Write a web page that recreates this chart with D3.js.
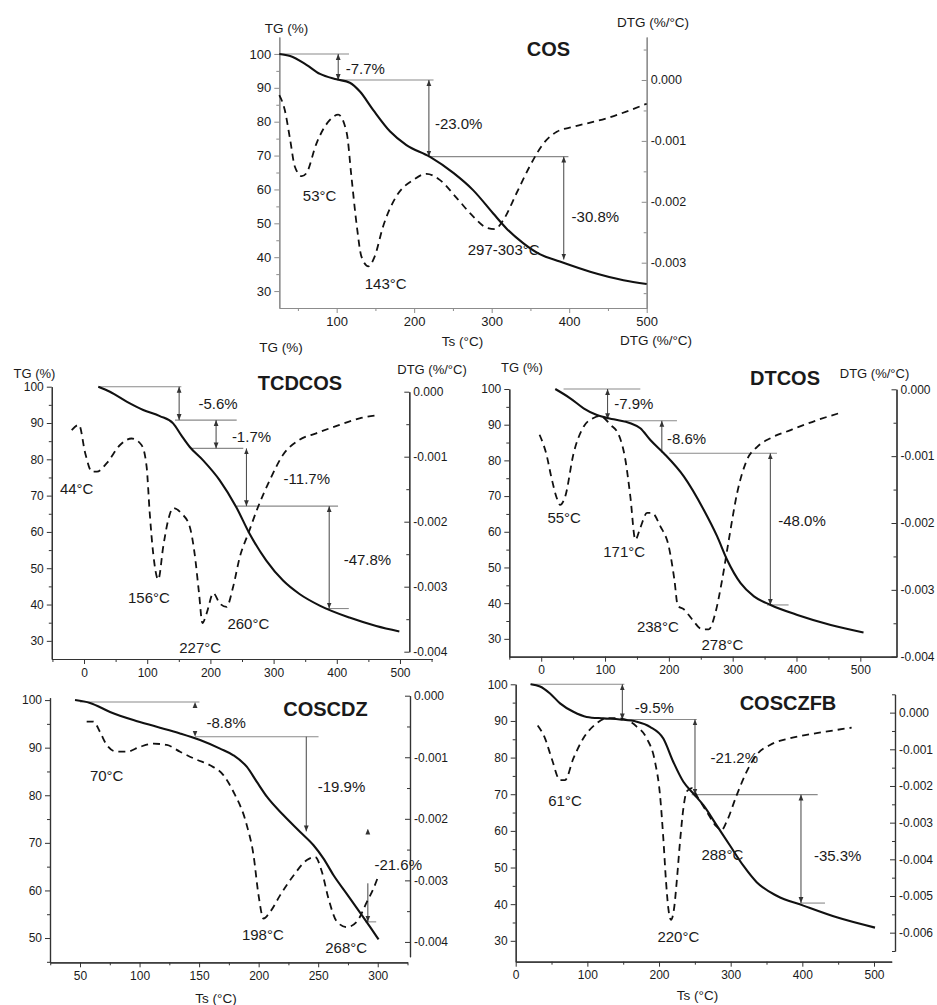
<!DOCTYPE html>
<html>
<head>
<meta charset="utf-8">
<script src="https://cdn.jsdelivr.net/npm/d3@7"></script>
<style>
  body { margin: 0; background: #fff; }
  text { font-family: "Liberation Sans", Arial, sans-serif; fill: #1a1a1a; }
</style>
</head>
<body>
<svg id="fig" width="937" height="1005"></svg>
<script>
// ---------- data: [T (°C), value] ----------
var cosTG = [[26,100],[40,99.4],[61,96.8],[78.5,94.1],[100,92.5],[117,91.5],[130,88.9],[147,83.5],[169,77.1],[190,73.1],[220,69.7],[251,64.8],[276,59.8],[302,52.9],[319,48.5],[341,44.1],[362,40.9],[388,38.7],[427,35.7],[470,33.2],[500,32.1]];
var cosDTG = [[26,-0.00025],[33,-0.00049],[40,-0.00098],[46,-0.00142],[55,-0.00158],[61,-0.00153],[74,-0.00104],[91,-0.00066],[102,-0.00057],[113,-0.00087],[119,-0.00158],[126,-0.0024],[132,-0.0029],[141,-0.00306],[149,-0.0029],[160,-0.0024],[177,-0.00191],[199,-0.00164],[216,-0.00154],[233,-0.00164],[255,-0.00194],[276,-0.00224],[294,-0.00243],[304,-0.00245],[315,-0.0023],[332,-0.00186],[349,-0.00142],[367,-0.00104],[384,-0.00085],[405,-0.00077],[448,-0.00063],[500,-0.00039]];

var tcdTG = [[22.6,100],[41,98.6],[67.4,95.9],[93.7,93.6],[120,91.9],[141,89.9],[154,86.6],[167.4,83.4],[188.5,79.7],[214.8,74.2],[241,66.8],[262,59.5],[288.5,52.1],[315,46.6],[341,42.9],[373,39.7],[420,36.4],[462.4,34.1],[499,32.6]];
var tcdDTG = [[-19.5,-0.00059],[-8,-0.00051],[2,-0.00095],[12.5,-0.00123],[20.4,-0.00123],[36,-0.0011],[57,-0.00082],[75.3,-0.00072],[91,-0.00082],[99,-0.00115],[104,-0.00187],[109.5,-0.00249],[117.5,-0.00289],[125.4,-0.00238],[133.3,-0.00197],[141,-0.00179],[154,-0.00187],[167.4,-0.00208],[175,-0.00249],[182,-0.0031],[187.4,-0.00356],[194,-0.00341],[204.6,-0.0031],[215,-0.00326],[225.6,-0.00331],[236,-0.003],[246.6,-0.00254],[260,-0.00218],[275.5,-0.00177],[294,-0.00136],[315,-0.00097],[341,-0.00074],[367.5,-0.00064],[404.4,-0.00051],[436,-0.00041],[465,-0.00036]];

var dtTG = [[22,100],[45.5,97.4],[66.4,94.6],[87.3,92.7],[113.5,91.5],[139.6,90.4],[155.3,89],[171,85.7],[192,82],[223.4,75.5],[254.8,66.1],[275.7,58.7],[291.4,52.1],[312.4,45.6],[333.3,41.9],[359.5,39.5],[401.4,36.7],[453.7,33.9],[505,31.8]];
var dtDTG = [[-2.6,-0.00068],[7.8,-0.00096],[16.7,-0.00135],[24.5,-0.00163],[29.7,-0.00173],[37.7,-0.0016],[50.7,-0.00096],[66.4,-0.00056],[82,-0.00043],[92.6,-0.0004],[108.3,-0.00053],[121.4,-0.00068],[131.8,-0.00105],[139.6,-0.0016],[147.5,-0.00225],[155.3,-0.00207],[165.8,-0.00185],[173.6,-0.00185],[186.7,-0.00205],[199.8,-0.00235],[208.7,-0.00285],[214,-0.00324],[223.4,-0.00329],[236.4,-0.00344],[252.1,-0.00359],[262.6,-0.00359],[273,-0.00334],[283.5,-0.00285],[294,-0.00225],[307,-0.00155],[322.7,-0.00105],[338.4,-0.00086],[359.5,-0.00073],[390.8,-0.00061],[432.6,-0.00046],[469.3,-0.00035]];

var cdzTG = [[45.8,100],[58.4,99.4],[75.2,97.5],[94.8,95.8],[114.4,94.4],[134,93],[150.8,91.6],[167.6,89.8],[178.8,88.4],[190,86],[198.5,82.8],[206.9,79.7],[220.9,75.8],[234.9,72.3],[246.1,69.5],[254.5,66.7],[262.9,63.2],[274,59.3],[285.3,55.3],[293.7,52.3],[300.7,49.7]];
var cdzDTG = [[55.6,-0.00042],[61.2,-0.00042],[66.8,-0.00059],[72.4,-0.0008],[80.8,-0.00091],[89.2,-0.00091],[100.4,-0.00083],[111.6,-0.00078],[122.8,-0.0008],[134,-0.00091],[148,-0.00104],[159.2,-0.00113],[170.4,-0.00129],[178.8,-0.00156],[190,-0.0021],[195.7,-0.00259],[199.9,-0.00324],[204.1,-0.00362],[209.7,-0.00351],[218.1,-0.00324],[229.3,-0.00292],[240.5,-0.00267],[247.5,-0.00262],[253.1,-0.00286],[258.7,-0.0033],[265.7,-0.00367],[274.1,-0.00376],[282.5,-0.00367],[290.9,-0.00335],[296.5,-0.00313],[300.7,-0.00292]];

var zfbTG = [[20.9,100],[34,99.4],[47.9,97.5],[61.9,94.8],[80.5,92.5],[99,91.1],[122.3,90.7],[145.6,90.4],[168.8,89.8],[187.4,88.4],[206,85.2],[220,78.8],[234,73.4],[247.9,70.2],[261.9,67],[280.5,61.5],[299,56],[317.7,50.5],[336.3,46],[364.2,42.3],[401.4,39.6],[448,36.4],[501.4,33.6]];
var zfbDTG = [[30.7,-0.00035],[40.9,-0.0007],[50.2,-0.00125],[61.9,-0.00184],[68.8,-0.00184],[80.5,-0.00125],[94.4,-0.0007],[113,-0.00029],[127,-0.00015],[141,-0.00015],[155,-0.0002],[168.8,-0.00038],[182.8,-0.0007],[194.4,-0.00134],[201.4,-0.00225],[206,-0.00343],[209.8,-0.00461],[213,-0.00534],[216.7,-0.00565],[221,-0.00534],[224.7,-0.00461],[229.3,-0.00352],[234,-0.00261],[238.6,-0.00215],[245.6,-0.00206],[254.9,-0.00234],[266.5,-0.0027],[280.5,-0.00311],[287.4,-0.0032],[294.4,-0.00297],[308.4,-0.00225],[322.3,-0.00161],[336.3,-0.00115],[354.9,-0.00088],[382.8,-0.0007],[420,-0.00056],[468.8,-0.00041]];

// mass-loss steps: horizontal guides [T1, T2, TG], arrows [T, TG top, TG bottom, heads]
var cosSteps = [[26,116,100],[100,225,92.3],[218,399,69.7]];
var cosArrows = [[102,100,92.3,"both"],[219,92.3,69.7,"both"],[393,69.7,39.3,"both"]];
var cosNotes = [["-7.7%",137,95.6],["-23.0%",257.4,79.5],["-30.8%",433.8,52],["53°C",78,58],["143°C",163.2,32.3],["297-303°C",315.5,42.1]];

var tcdSteps = [[22.6,154,100],[144,241.6,90.8],[170,252,83],[241.6,402,67.1],[381,419,38.9]];
var tcdArrows = [[150.5,100,90.8,"both"],[209,90.8,83,"both"],[257,83,67.1,"both"],[388,67.1,38.9,"both"]];
var tcdNotes = [["-5.6%",212,95.4],["-1.7%",265,86.2],["-11.7%",352.6,74.7],["-47.8%",448.5,52.3],["44°C",-11.6,71.9],["156°C",102.7,42],["227°C",183.8,28.2],["260°C",260,34.6]];

var dtSteps = [[35,155.3,100],[131.7,212.7,91.1],[200.6,369.4,82],[353.7,387.6,39.5]];
var dtArrows = [[104,100,91.5,"both"],[189,91.1,82.2,"top"],[359,82,39.5,"both"]];
var dtNotes = [["-7.9%",145,95.8],["-8.6%",227.7,86],["-48.0%",408.6,63.1],["55°C",36,63.8],["171°C",130,54.3],["238°C",182.8,33.3],["278°C",284,28.3]];

var cdzSteps = [[50,150.3,99.6],[146.6,250.3,92.3],[289.5,298.7,53.4]];
var cdzArrows = [[146.6,99.6,92.3,"heads"],[240,92.3,72.4,"bottom"],[291.7,73,71.1,"headtop"],[291.7,61.5,53.4,"bottom"]];
var cdzNotes = [["-8.8%",172.7,95.2],["-19.9%",269.6,81.7],["-21.6%",317.2,65.3],["70°C",72.4,84.1],["198°C",203.5,50.6],["268°C",273.5,48]];

var zfbSteps = [[20,151.6,100],[145.6,252.6,90.4],[245.6,421.4,69.9],[398,431.6,40.3]];
var zfbArrows = [[148.8,100,90.4,"both"],[250.2,90.4,69.9,"both"],[398.1,69.9,40.3,"both"]];
var zfbNotes = [["-9.5%",193.5,93.7],["-21.2%",305,80],["-35.3%",449.3,53.3],["61°C",68.8,68.3],["220°C",227,31.1],["288°C",288.4,53.5]];

// tick values
var tg30 = [30,40,50,60,70,80,90,100], tg30m = [35,45,55,65,75,85,95];
var tg50 = [50,60,70,80,90,100], tg50m = [45,55,65,75,85,95];
var dtg3 = [0,-0.001,-0.002,-0.003], dtg3m = [0.0005,-0.0005,-0.0015,-0.0025,-0.0035];
var dtg4 = [0,-0.001,-0.002,-0.003,-0.004], dtg4m = [-0.0005,-0.0015,-0.0025,-0.0035];
var dtg6 = [0,-0.001,-0.002,-0.003,-0.004,-0.005,-0.006], dtg6m = [0.0005,-0.0005,-0.0015,-0.0025,-0.0035,-0.0045,-0.0055,-0.0065];
var ts100 = [0,100,200,300,400,500], ts100m = [-50,50,150,250,350,450,550];
var tsCos = [100,200,300,400,500], tsCosm = [50,150,250,350,450];
var ts50 = [50,100,150,200,250,300], ts50m = [25,75,125,175,225,275,325];

// ---------- layout ----------
var panels = [
  { tg: cosTG, dtg: cosDTG, steps: cosSteps, arrows: cosArrows, notes: cosNotes,
    x0: 279.3, x1: 646.7, yb: 308, yt: 37, xd: [26, 500], yd: [25, 105],
    rx: 646.7, rd: [-0.003744, 0.000706], rb: 308, rt: 37,
    xt: tsCos, xm: tsCosm, yt1: tg30, ym: tg30m, rt1: dtg3, rm: dtg3m,
    axis: "#8c8c8c", fs: 13, rfs: 12.5,
    labels: [["TG (%)",286.5,28,13.5],["DTG (%/°C)",653,22,13.5],["COS",548.5,49,20,1],["Ts (°C)",462.5,341,13.5],["DTG (%/°C)",656,340,13.5],["TG (%)",281,347,13.5]] },
  { tg: tcdTG, dtg: tcdDTG, steps: tcdSteps, arrows: tcdArrows, notes: tcdNotes,
    x0: 51.8, x1: 432.2, yb: 659, yt: 386.7, xd: [-51, 551], yd: [25, 100],
    rx: 409.3, rd: [-0.004, 0], rb: 651.7, rt: 391.7,
    xt: ts100, xm: ts100m, yt1: tg30, ym: tg30m, rt1: dtg4, rm: dtg4m,
    axis: "#333", fs: 12, rfs: 12,
    labels: [["TG (%)",34.5,373,13],["DTG (%/°C)",432,369,13],["TCDCOS",300,383,20,1]] },
  { tg: dtTG, dtg: dtDTG, steps: dtSteps, arrows: dtArrows, notes: dtNotes,
    x0: 509.3, x1: 896.7, yb: 656.7, yt: 389, xd: [-50, 557], yd: [25, 100],
    rx: 896.5, rd: [-0.004, 0], rb: 656.7, rt: 389.3,
    xt: ts100, xm: ts100m.slice(0, 6), yt1: tg30, ym: tg30m, rt1: dtg4, rm: dtg4m,
    axis: "#333", fs: 12, rfs: 12,
    labels: [["TG (%)",522,367,13],["DTG (%/°C)",874.5,373,13],["DTCOS",785,378,20,1]] },
  { tg: cdzTG, dtg: cdzDTG, steps: cdzSteps, arrows: cdzArrows, notes: cdzNotes,
    x0: 50, x1: 407.5, yb: 962.3, yt: 697.7, xd: [24.8, 325], yd: [44.9, 100.5],
    rx: 410, rd: [-0.00424, 0], rb: 956.7, rt: 695.7,
    xt: ts50, xm: ts50m, yt1: tg50, ym: tg50m, rt1: dtg4, rm: dtg4m,
    axis: "#333", fs: 12, rfs: 12,
    labels: [["Ts (°C)",216,998,13.5],["COSCDZ",325.5,709,20,1]] },
  { tg: zfbTG, dtg: zfbDTG, steps: zfbSteps, arrows: zfbArrows, notes: zfbNotes,
    x0: 515.7, x1: 891.7, yb: 961.7, yt: 684.3, xd: [0, 524.7], yd: [24.3, 100],
    rx: 895, rd: [-0.0065, 0.0005], rb: 951, rt: 694.3,
    xt: ts100, xm: ts100m.slice(1, 6), yt1: tg30, ym: tg30m, rt1: dtg6, rm: dtg6m,
    axis: "#333", fs: 12, rfs: 12,
    labels: [["Ts (°C)",697.5,995,13.5],["COSCZFB",788,703,20,1]] }
];

var svg = d3.select("#fig");
svg.append("rect").attr("width", 937).attr("height", 1005).attr("fill", "#fff");

var defs = svg.append("defs");
[["dk", "#333"], ["gy", "#999"]].forEach(function(m) {
  defs.append("marker")
    .attr("id", "ah-" + m[0])
    .attr("viewBox", "0 0 10 10")
    .attr("refX", 10).attr("refY", 5)
    .attr("markerWidth", 6).attr("markerHeight", 7)
    .attr("markerUnits", "userSpaceOnUse")
    .attr("orient", "auto-start-reverse")
    .append("path").attr("d", "M0,1L10,5L0,9Z").attr("fill", m[1]);
});

function styleAxis(sel, p, size) {
  sel.select(".domain").attr("stroke", p.axis).attr("stroke-width", 1.2);
  sel.selectAll(".tick line").attr("stroke", p.axis);
  sel.selectAll(".tick text").attr("font-size", size).attr("fill", "#1a1a1a")
    .attr("font-family", "Liberation Sans, Arial, sans-serif");
}

function drawPanel(p) {
  var g = svg.append("g");
  var x = d3.scaleLinear().domain(p.xd).range([p.x0, p.x1]);
  var y = d3.scaleLinear().domain(p.yd).range([p.yb, p.yt]);
  var yr = d3.scaleLinear().domain(p.rd).range([p.rb, p.rt]);

  // x axis
  var inX = function(v) { return v >= p.xd[0] - 0.5 && v <= p.xd[1] + 0.5; };
  g.append("g").attr("transform", "translate(0," + p.yb + ")")
    .call(d3.axisBottom(x).tickValues(p.xm.filter(inX)).tickSize(3).tickSizeOuter(0).tickFormat(""))
    .call(styleAxis, p, p.fs);
  g.append("g").attr("transform", "translate(0," + p.yb + ")")
    .call(d3.axisBottom(x).tickValues(p.xt.filter(inX)).tickSize(5).tickSizeOuter(0).tickPadding(4))
    .call(styleAxis, p, p.fs);

  // left TG axis
  g.append("g").attr("transform", "translate(" + p.x0 + ",0)")
    .call(d3.axisLeft(y).tickValues(p.ym).tickSize(3).tickSizeOuter(0).tickFormat(""))
    .call(styleAxis, p, p.fs);
  g.append("g").attr("transform", "translate(" + p.x0 + ",0)")
    .call(d3.axisLeft(y).tickValues(p.yt1).tickSize(5).tickSizeOuter(0).tickPadding(3))
    .call(styleAxis, p, p.fs);

  // right DTG axis (ticks point inward)
  var fmt = function(d) { return Math.abs(d) < 1e-9 ? "0.000" : d.toFixed(3); };
  g.append("g").attr("transform", "translate(" + p.rx + ",0)")
    .call(d3.axisRight(yr).tickValues(p.rm).tickSize(-3).tickSizeOuter(0).tickFormat(""))
    .call(styleAxis, p, p.rfs);
  g.append("g").attr("transform", "translate(" + p.rx + ",0)")
    .call(d3.axisRight(yr).tickValues(p.rt1).tickSize(-5).tickSizeOuter(0).tickPadding(4).tickFormat(fmt))
    .call(styleAxis, p, p.rfs);

  // step guides
  g.selectAll(".step").data(p.steps).enter().append("line")
    .attr("x1", function(d) { return x(d[0]); })
    .attr("x2", function(d) { return x(d[1]); })
    .attr("y1", function(d) { return y(d[2]); })
    .attr("y2", function(d) { return y(d[2]); })
    .attr("stroke", "#8a8a8a").attr("stroke-width", 1.1);

  // arrows
  p.arrows.forEach(function(a) {
    var line = g.append("line")
      .attr("x1", x(a[0])).attr("x2", x(a[0]))
      .attr("y1", y(a[1])).attr("y2", y(a[2]))
      .attr("stroke", "#444").attr("stroke-width", 1);
    if (a[3] === "both" || a[3] === "top" || a[3] === "heads" || a[3] === "headtop")
      line.attr("marker-start", "url(#ah-dk)");
    if (a[3] === "both" || a[3] === "bottom" || a[3] === "heads")
      line.attr("marker-end", "url(#ah-dk)");
    if (a[3] === "heads" || a[3] === "headtop") line.attr("stroke", "none");
  });

  // curves
  var tgLine = d3.line().x(function(d) { return x(d[0]); }).y(function(d) { return y(d[1]); }).curve(d3.curveMonotoneX);
  var dtgLine = d3.line().x(function(d) { return x(d[0]); }).y(function(d) { return yr(d[1]); }).curve(d3.curveMonotoneX);
  g.append("path").datum(p.dtg).attr("d", dtgLine)
    .attr("fill", "none").attr("stroke", "#111").attr("stroke-width", 1.8)
    .attr("stroke-dasharray", "7,5");
  g.append("path").datum(p.tg).attr("d", tgLine)
    .attr("fill", "none").attr("stroke", "#111").attr("stroke-width", 2.1);

  // annotations
  g.selectAll(".note").data(p.notes).enter().append("text")
    .attr("x", function(d) { return x(d[1]); })
    .attr("y", function(d) { return y(d[2]); })
    .attr("dy", "0.35em")
    .attr("text-anchor", "middle")
    .attr("font-size", 15)
    .text(function(d) { return d[0]; });

  // titles and axis labels
  g.selectAll(".lab").data(p.labels).enter().append("text")
    .attr("x", function(d) { return d[1]; })
    .attr("y", function(d) { return d[2]; })
    .attr("dy", "0.35em")
    .attr("text-anchor", "middle")
    .attr("font-size", function(d) { return d[3]; })
    .attr("font-weight", function(d) { return d[4] ? "bold" : "normal"; })
    .text(function(d) { return d[0]; });
}

panels.forEach(drawPanel);
</script>
</body>
</html>
